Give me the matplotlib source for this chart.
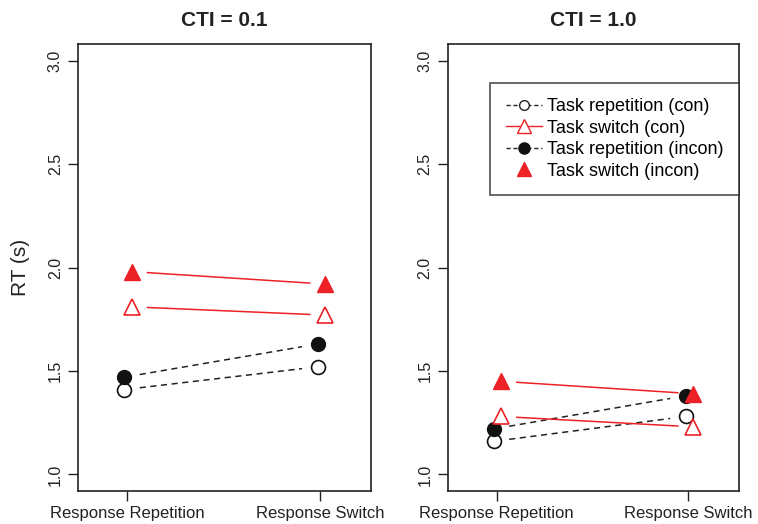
import matplotlib.pyplot as plt
from matplotlib.lines import Line2D

plt.rcParams["font.family"] = ["Liberation Sans", "DejaVu Sans"]

warunki = ["Response Repetition", "Response Switch"]
pozycje = [1, 2]

# CTI = 0.1
rep_con_01 = [1.41, 1.52]
sw_con_01 = [1.81, 1.77]
rep_incon_01 = [1.47, 1.63]
sw_incon_01 = [1.98, 1.92]

# CTI = 1.0
rep_con_10 = [1.16, 1.28]
sw_con_10 = [1.28, 1.23]
rep_incon_10 = [1.22, 1.38]
sw_incon_10 = [1.45, 1.39]

czerwony = "#ec2227"


def linia_z_przerwa(ax, xs, ys, **kw):
    # linie jak w R type="b": nie dotykaja punktow
    g = 0.08
    x0 = xs[0] + g * (xs[1] - xs[0])
    x1 = xs[1] - g * (xs[1] - xs[0])
    y0 = ys[0] + g * (ys[1] - ys[0])
    y1 = ys[1] - g * (ys[1] - ys[0])
    ax.plot([x0, x1], [y0, y1], **kw)


def panel(ax, rep_con, sw_con, rep_incon, sw_incon, tytul):
    xl = [p - 0.015 for p in pozycje]
    xr = [p + 0.025 for p in pozycje]
    linia_z_przerwa(ax, xl, rep_con, color="#222222", ls=(0, (4, 3)), lw=1.1)
    linia_z_przerwa(ax, xl, rep_incon, color="#222222", ls=(0, (4, 3)), lw=1.1)
    linia_z_przerwa(ax, xr, sw_con, color=czerwony, lw=1.1)
    linia_z_przerwa(ax, xr, sw_incon, color=czerwony, lw=1.1)
    ax.plot(xl, rep_con, "o", ms=10, mfc="white", mec="#111111", mew=1.2, ls="none")
    ax.plot(xl, rep_incon, "o", ms=10, mfc="#111111", mec="#111111", ls="none")
    ax.plot(xr, sw_con, "^", ms=11, mfc="white", mec=czerwony, mew=1.2, ls="none")
    ax.plot(xr, sw_incon, "^", ms=11, mfc=czerwony, mec=czerwony, ls="none")

    ax.set_xlim(0.746, 2.264)
    ax.set_ylim(0.92, 3.08)
    ax.set_xticks(pozycje)
    ax.set_xticklabels(warunki, fontsize=12, color="#222222")
    ax.set_yticks([1.0, 1.5, 2.0, 2.5, 3.0])
    ax.set_yticklabels(["1.0", "1.5", "2.0", "2.5", "3.0"], rotation=90,
                       va="center", fontsize=11.5, color="#222222")
    ax.tick_params(direction="out", length=7, width=1, color="#222222", pad=4)
    for s in ax.spines.values():
        s.set_linewidth(1.2)
        s.set_color("#222222")
    ax.set_title(tytul, fontsize=15, fontweight="bold", pad=13, color="#222222")


fig = plt.figure(figsize=(7.58, 5.24), dpi=100)
ax1 = fig.add_axes([0.103, 0.063, 0.387, 0.853])
ax2 = fig.add_axes([0.591, 0.063, 0.384, 0.853])

panel(ax1, rep_con_01, sw_con_01, rep_incon_01, sw_incon_01, "CTI = 0.1")
panel(ax2, rep_con_10, sw_con_10, rep_incon_10, sw_incon_10, "CTI = 1.0")

ax1.set_ylabel("RT (s)", fontsize=15, color="#222222", labelpad=13)

uchwyty = [
    Line2D([], [], color="#222222", ls=(0, (3, 2)), lw=1, marker="o", ms=7,
           mfc="white", mec="#222222"),
    Line2D([], [], color=czerwony, lw=1, marker="^", ms=10, mfc="white", mec=czerwony),
    Line2D([], [], color="#222222", ls=(0, (3, 2)), lw=1, marker="o", ms=8,
           mfc="#111111", mec="#111111"),
    Line2D([], [], ls="none", marker="^", ms=10, mfc=czerwony, mec=czerwony),
]
etykiety = ["Task repetition (con)", "Task switch (con)",
            "Task repetition (incon)", "Task switch (incon)"]
leg = ax2.legend(uchwyty, etykiety, loc="upper right", bbox_to_anchor=(1.0, 0.913),
                 fontsize=13, frameon=True, fancybox=False, handlelength=2.0,
                 handletextpad=0.3, borderpad=0.85, labelspacing=0.25, borderaxespad=0)
leg.get_frame().set_edgecolor("#222222")
leg.get_frame().set_linewidth(1.2)

plt.savefig("out.png", dpi=100)
